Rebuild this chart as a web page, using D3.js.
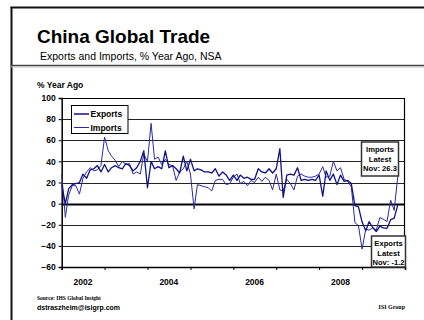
<!DOCTYPE html>
<html>
<head>
<meta charset="utf-8">
<script src="https://cdn.jsdelivr.net/npm/d3@7"></script>
<style>
  html, body { margin: 0; padding: 0; background: #fff; }
  svg { display: block; }
  text { font-family: Arial, "Liberation Sans", sans-serif; }
  .serif { font-family: "Times New Roman", "Liberation Serif", serif; }
</style>
</head>
<body>
<svg id="chart" width="424" height="320"></svg>
<script>
// Monthly % change from a year earlier, Jan 2002 through Nov 2009
const startMonth = new Date(2002, 0, 1);

const exportsYoY = [
  18, 0, 14, 18, 19, 20, 28, 24, 32, 33, 36, 30,          // 2002
  37, 30, 34, 36, 34, 33, 38, 36, 31, 34, 40, 50,         // 2003
  15, 40, 33, 35, 33, 50, 34, 36, 33, 29, 45, 31,         // 2004
  42, 31, 33, 32, 30, 30, 29, 33, 26, 30, 27, 22,         // 2005
  27, 22, 27, 24, 25, 23, 23, 33, 30, 29, 33, 29,         // 2006
  33, 52, 6, 27, 28, 27, 34, 22, 23, 22, 23, 22,          // 2007
  27, 7, 31, 22, 28, 18, 27, 21, 22, 19, -2, -3,          // 2008
  -17.5, -25.7, -17.1, -22.6, -26.4, -21.4, -23.0, -23.4, -15.2, -13.8, -1.2 // 2009
];

const importsYoY = [
  28, -13, 8, 17, 17, 9, 24, 30, 34, 31, 32, 36,          // 2002
  63, 50, 45, 41, 35, 40, 37, 38, 28, 30, 28, 47,         // 2003
  40, 76, 42, 44, 37, 42, 37, 36, 22, 30, 33, 40,         // 2004
  28, -5, 18, 17, 16, 15, 12, 22, 23, 23, 18, 19,         // 2005
  25, 28, 19, 21, 17, 22, 20, 25, 21, 25, 22, 13,         // 2006
  28, 13, 12, 23, 19, 13, 26, 28, 26, 25, 25, 26,         // 2007
  28, 35, 25, 26, 40, 31, 34, 23, 21, 16, -18, -21,       // 2008
  -43.1, -24.1, -25.1, -23.0, -25.2, -13.2, -14.9, -17.0, 3.3, -6.4, 26.3 // 2009
];

const seriesNames = ["Exports", "Imports"];
const yTicks = [-60, -40, -20, 0, 20, 40, 60, 80, 100];
const yearTicks = [2002, 2003, 2004, 2005, 2006, 2007, 2008, 2009, 2010];
const yearLabels = [2002, 2004, 2006, 2008];
const latestMonthName = "Nov";

const svg = d3.select("#chart");
const lineColor = "#10108a";

// Page frame and header
svg.append("line").attr("x1", 11.5).attr("x2", 11.5).attr("y1", 7).attr("y2", 320)
  .attr("stroke", "#111").attr("stroke-width", 2);
svg.append("line").attr("x1", 10.5).attr("x2", 424).attr("y1", 7.5).attr("y2", 7.5)
  .attr("stroke", "#111").attr("stroke-width", 2);
svg.append("line").attr("x1", 11).attr("x2", 424).attr("y1", 65.5).attr("y2", 65.5)
  .attr("stroke", "#444").attr("stroke-width", 1.5);
svg.append("line").attr("x1", 11).attr("x2", 424).attr("y1", 67).attr("y2", 67)
  .attr("stroke", "#bbb").attr("stroke-width", 1);

svg.append("text").attr("x", 37).attr("y", 43)
  .attr("font-size", 19).attr("font-weight", "bold").attr("fill", "#000")
  .text("China Global Trade");
svg.append("text").attr("x", 40).attr("y", 59.5)
  .attr("font-size", 10.5).attr("fill", "#000")
  .text("Exports and Imports, % Year Ago, NSA");
svg.append("text").attr("x", 37).attr("y", 88)
  .attr("font-size", 8.5).attr("font-weight", "bold")
  .text("% Year Ago");

// Plot area
const plot = { left: 61.7, right: 405, top: 98, bottom: 267 };
const x = d3.scaleTime()
  .domain([new Date(2002, 0, 1), new Date(2010, 0, 1)])
  .range([plot.left, plot.right]);
const y = d3.scaleLinear().domain([-60, 100]).range([plot.bottom, plot.top]);

const monthDate = i => d3.timeMonth.offset(startMonth, i);

// Horizontal gridlines
svg.append("g").selectAll("line")
  .data(yTicks.filter(v => v > -60 && v < 100))
  .join("line")
  .attr("x1", plot.left).attr("x2", plot.right)
  .attr("y1", d => Math.round(y(d)) + 0.5).attr("y2", d => Math.round(y(d)) + 0.5)
  .attr("stroke", d => d === 0 ? "#000" : "#222")
  .attr("stroke-width", d => d === 0 ? 2 : 1);

// Plot border (top and right)
svg.append("path")
  .attr("d", `M${plot.left},${plot.top + 0.5}H${plot.right - 0.5}V${plot.bottom}`)
  .attr("fill", "none").attr("stroke", "#000").attr("stroke-width", 1.2);

// Y axis
const yAxis = svg.append("g")
  .attr("transform", `translate(${plot.left},0)`)
  .call(d3.axisLeft(y).tickValues(yTicks).tickSize(3).tickPadding(3).tickFormat(d3.format("d")));
yAxis.select(".domain").attr("stroke", "#000").attr("stroke-width", 1.5);
yAxis.selectAll(".tick line").attr("stroke", "#000");
yAxis.selectAll("text").attr("font-size", 8.5).attr("font-weight", "bold")
  .attr("font-family", "Arial, 'Liberation Sans', sans-serif").attr("fill", "#000");

// X axis: year boundary ticks, labels centred in alternate years
const xAxis = svg.append("g")
  .attr("transform", `translate(0,${plot.bottom})`)
  .call(d3.axisBottom(x)
    .tickValues(yearTicks.map(yr => new Date(yr, 0, 1)))
    .tickSize(3).tickFormat(""));
xAxis.select(".domain").attr("stroke", "#000").attr("stroke-width", 1.5);
xAxis.selectAll(".tick line").attr("stroke", "#000");

svg.append("g").selectAll("text")
  .data(yearLabels)
  .join("text")
  .attr("x", d => x(new Date(d, 6, 1)))
  .attr("y", 285)
  .attr("text-anchor", "middle")
  .attr("font-size", 8.5).attr("font-weight", "bold")
  .text(d => d);

// Series lines
const line = d3.line()
  .x((d, i) => x(monthDate(i)))
  .y(d => y(d));

svg.append("path").datum(importsYoY)
  .attr("d", line).attr("fill", "none")
  .attr("stroke", "#2a2aa0").attr("stroke-width", 1)
  .attr("stroke-linejoin", "round");
svg.append("path").datum(exportsYoY)
  .attr("d", line).attr("fill", "none")
  .attr("stroke", lineColor).attr("stroke-width", 1.3)
  .attr("stroke-linejoin", "round");

// Legend
const legend = svg.append("g");
legend.append("rect").attr("x", 71.5).attr("y", 105.5).attr("width", 56.5).attr("height", 28)
  .attr("fill", "#fff").attr("stroke", "#000").attr("stroke-width", 1);
const legendStyles = [
  { stroke: lineColor, width: 1.5 },
  { stroke: "#2a2aa0", width: 1 }
];
seriesNames.forEach((name, i) => {
  const ly = 114 + i * 13.5;
  legend.append("line").attr("x1", 74).attr("x2", 89).attr("y1", ly).attr("y2", ly)
    .attr("stroke", legendStyles[i].stroke).attr("stroke-width", legendStyles[i].width);
  legend.append("text").attr("x", 90.5).attr("y", ly + 3.2)
    .attr("font-size", 8.5).attr("font-weight", "bold").text(name);
});

// Latest-value callouts
function callout(cx, top, w, h, lines) {
  const g = svg.append("g");
  g.append("rect").attr("x", cx - w / 2).attr("y", top).attr("width", w).attr("height", h)
    .attr("fill", "#fff").attr("stroke", "#333").attr("stroke-width", 1.5);
  lines.forEach((t, i) => {
    g.append("text").attr("x", cx).attr("y", top + 10 + i * 9.6)
      .attr("text-anchor", "middle").attr("font-size", 7.6).attr("font-weight", "bold")
      .text(t);
  });
}
const lastImport = importsYoY[importsYoY.length - 1];
const lastExport = exportsYoY[exportsYoY.length - 1];
callout(380, 142, 37, 34, ["Imports", "Latest", `${latestMonthName}: ${lastImport}`]);
callout(388.5, 236, 34, 31, ["Exports", "Latest", `${latestMonthName}: ${lastExport}`]);

// Footer
svg.append("text").attr("class", "serif").attr("x", 37).attr("y", 300)
  .attr("font-size", 5.5).attr("font-weight", "bold")
  .text("Source: IHS Global Insight");
svg.append("text").attr("x", 37).attr("y", 310)
  .attr("font-size", 7).attr("font-weight", "bold")
  .text("dstraszheim@isigrp.com");
svg.append("text").attr("class", "serif").attr("x", 405).attr("y", 309)
  .attr("text-anchor", "end").attr("font-size", 6).attr("font-weight", "bold")
  .text("ISI Group");
</script>
</body>
</html>
